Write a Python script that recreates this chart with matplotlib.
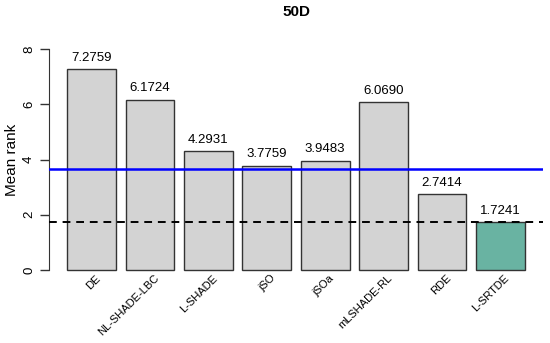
import matplotlib
matplotlib.use("Agg")
import matplotlib.pyplot as plt
import numpy as np

plt.rcParams['font.family'] = ['Liberation Sans', 'DejaVu Sans']

algorithms = ["DE", "NL-SHADE-LBC", "L-SHADE", "jSO", "jSOa", "mLSHADE-RL", "RDE", "L-SRTDE"]
mean_rank = [7.2759, 6.1724, 4.2931, 3.7759, 3.9483, 6.0690, 2.7414, 1.7241]
value_labels = ["7.2759", "6.1724", "4.2931", "3.7759", "3.9483", "6.0690", "2.7414", "1.7241"]
blue_level = 3.66
dashed_level = 1.7241
yticks = [0, 2, 4, 6, 8]
title = "50D"

fig = plt.figure(figsize=(5.5, 3.43), dpi=100)
ax = fig.add_axes([49/550, 1-278.8/343, (543-49)/550, (278.8-40.2)/343])

n = len(algorithms)
lefts = 0.2 + 1.2*np.arange(n)
centers = lefts + 0.5
colors = ["#D3D3D3"]*(n-1) + ["#69B3A2"]
ax.bar(centers, mean_rank, width=1.0, color=colors, edgecolor="#333333", linewidth=1.0, zorder=2)

ax.set_xlim(0.2-0.376, 9.6+0.376)
ax.set_ylim(-0.32, 8.32)

ax.axhline(blue_level, color="#0000FF", linewidth=1.8, zorder=3)
ax.axhline(dashed_level, color="black", linewidth=1.4, linestyle=(0, (4, 3)), zorder=3)

for c, v, s in zip(centers, mean_rank, value_labels):
    ax.text(c, v + 0.2, s, ha="center", va="bottom", fontsize=9.5)

for c, s in zip(centers, algorithms):
    ax.text(c + 0.08, -0.12, s, rotation=45, ha="right", va="top",
            rotation_mode="anchor", fontsize=8)

for sp in ["top", "right", "bottom"]:
    ax.spines[sp].set_visible(False)
ax.spines["left"].set_bounds(0, 8)
ax.spines["left"].set_color("#333333")
ax.set_xticks([])
ax.set_yticks(yticks)
ax.set_yticklabels([str(t) for t in yticks], rotation=90, va="center", fontsize=9.5)
ax.tick_params(axis="y", length=6.5, width=1, color="#333333", pad=3.5)
ax.set_ylabel("Mean rank", fontsize=11, va="center")
ax.yaxis.set_label_coords((12 - 49)/494, (278.8-160)/(278.8-40.2))
fig.text((49+543)/2/550, 1-12/343, title, ha="center", va="center", fontsize=11, fontweight="bold")

fig.savefig("out.png", dpi=100)
